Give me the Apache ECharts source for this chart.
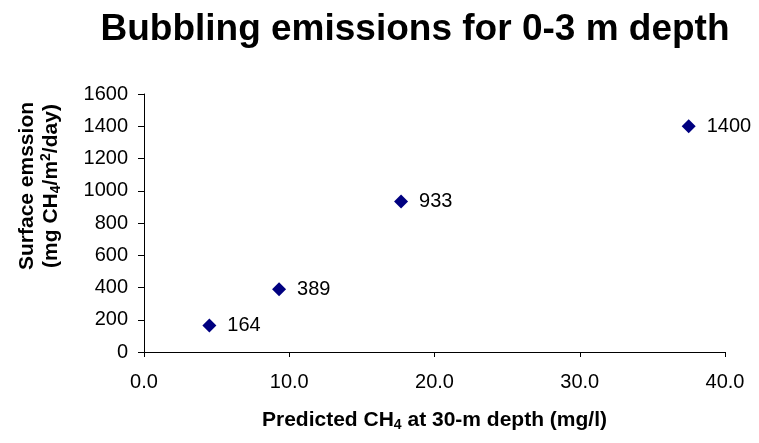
<!DOCTYPE html>
<html>
<head>
<meta charset="utf-8">
<script src="https://cdn.jsdelivr.net/npm/echarts@6/dist/echarts.min.js"></script>
<style>
html,body{margin:0;padding:0;background:#fff;}
#c{width:759px;height:443px;}
</style>
</head>
<body>
<div id="c"></div>
<script>
var xValues = [4.5, 9.3, 17.7, 37.5];
var yValues = [164, 389, 933, 1400];
var xTicks = [0, 10, 20, 30, 40];
var yTicks = [0, 200, 400, 600, 800, 1000, 1200, 1400, 1600];

var FONT = '"Liberation Sans", Arial, sans-serif';
var chart = echarts.init(document.getElementById('c'), null, {renderer: 'canvas'});
var points = xValues.map(function (x, i) { return [x, yValues[i]]; });

var richTitle = {
  b: {fontFamily: FONT, fontWeight: 'bold', fontSize: 21, color: '#000', lineHeight: 24},
  s: {fontFamily: FONT, fontWeight: 'bold', fontSize: 14, color: '#000', lineHeight: 14, verticalAlign: 'bottom'},
  p: {fontFamily: FONT, fontWeight: 'bold', fontSize: 14, color: '#000', lineHeight: 14, verticalAlign: 'top'}
};

chart.setOption({
  animation: false,
  backgroundColor: '#ffffff',
  title: {
    text: 'Bubbling emissions for 0-3 m depth',
    left: 410, top: 6, textAlign: 'center',
    textStyle: {fontFamily: FONT, fontWeight: 'bold', fontSize: 37, color: '#000'}
  },
  grid: {left: 144, right: 34, top: 94, bottom: 91},
  xAxis: {
    type: 'value',
    min: xTicks[0], max: xTicks[xTicks.length - 1], interval: 10,
    axisLine: {show: true, onZero: false, lineStyle: {color: '#000', width: 1}},
    axisTick: {show: true, length: 5, lineStyle: {color: '#000'}},
    splitLine: {show: false},
    axisLabel: {
      margin: 20, fontFamily: FONT, fontSize: 20, color: '#000',
      formatter: function (v) { return v.toFixed(1); }
    },
    name: '{b|Predicted CH}{s|4}{b| at 30-m depth (mg/l)}',
    nameLocation: 'middle',
    nameGap: 56,
    nameTextStyle: {rich: richTitle}
  },
  yAxis: {
    type: 'value',
    min: yTicks[0], max: yTicks[yTicks.length - 1], interval: 200,
    axisLine: {show: true, onZero: false, lineStyle: {color: '#000', width: 1}},
    axisTick: {show: true, length: 6, lineStyle: {color: '#000'}},
    splitLine: {show: false},
    axisLabel: {
      margin: 16, fontFamily: FONT, fontSize: 20, color: '#000',
      formatter: function (v) { return String(v); }
    }
  },
  graphic: [{
    type: 'text',
    x: 39, y: 186,
    rotation: Math.PI / 2,
    style: {
      text: '{b|Surface emssion}\n{b|(mg CH}{s|4}{b|/m}{p|2}{b|/day)}',
      align: 'center',
      verticalAlign: 'middle',
      rich: richTitle
    }
  }],
  series: [{
    type: 'scatter',
    data: points,
    symbol: 'diamond',
    symbolSize: [14, 14],
    itemStyle: {color: '#000080', opacity: 1},
    label: {
      show: true, position: 'right', distance: 11,
      fontFamily: FONT, fontSize: 20, color: '#000',
      formatter: function (p) { return String(p.value[1]); }
    }
  }]
});
</script>
</body>
</html>
